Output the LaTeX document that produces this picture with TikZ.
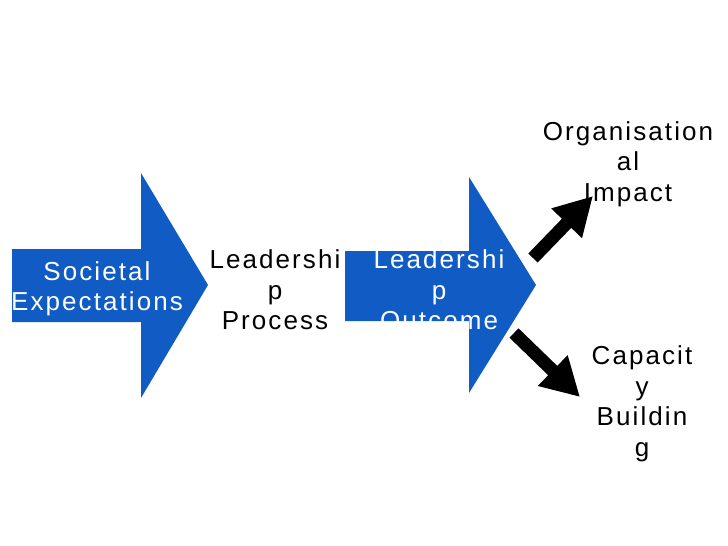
\documentclass[tikz,border=0pt]{standalone}
\usepackage{fontspec}
\setmainfont{Liberation Sans}[LetterSpace=8]
\usetikzlibrary{arrows.meta}
\definecolor{slideblue}{RGB}{16,92,196}

\begin{document}
\begin{tikzpicture}[x=1pt, y=-1pt,
    bigarrow/.style={fill=slideblue},
    words/.style={align=center, font=\fontsize{26}{30.5}\selectfont},
    pointer/.style={line width=13pt, -{Triangle[length=38pt,width=40pt]}}]
    \useasboundingbox (0,0) rectangle (728,546);

    % Blue block arrows
    \fill[bigarrow] (12,249) -- (141,249) -- (141,173) -- (208,285)
        -- (141,398) -- (141,322) -- (12,322) -- cycle;
    \fill[bigarrow] (345,251) -- (469,251) -- (469,177) -- (536,285)
        -- (469,393) -- (469,321) -- (345,321) -- cycle;

    % Text nodes
    \node[words, white] at (97,289) (society) {Societal\\Expectations};
    \node[words] at (275,290) (process) {Leadershi\\p\\Process};
    \node[words, white] at (439,290) (outcome) {Leadershi\\p\\Outcome};
    \node[words] at (628,164) (impact) {Organisation\\al\\Impact};
    \node[words] at (642,404) (capacity) {Capacit\\y\\Buildin\\g};

    % Ends of the black pointers
    \coordinate (upfrom) at (533,258);
    \coordinate (upto) at (593,196);
    \coordinate (downfrom) at (514,333);
    \coordinate (downto) at (580,397);

    % Black pointers
    \draw[pointer] (upfrom) -- (upto);
    \draw[pointer] (downfrom) -- (downto);

\end{tikzpicture}
\end{document}
